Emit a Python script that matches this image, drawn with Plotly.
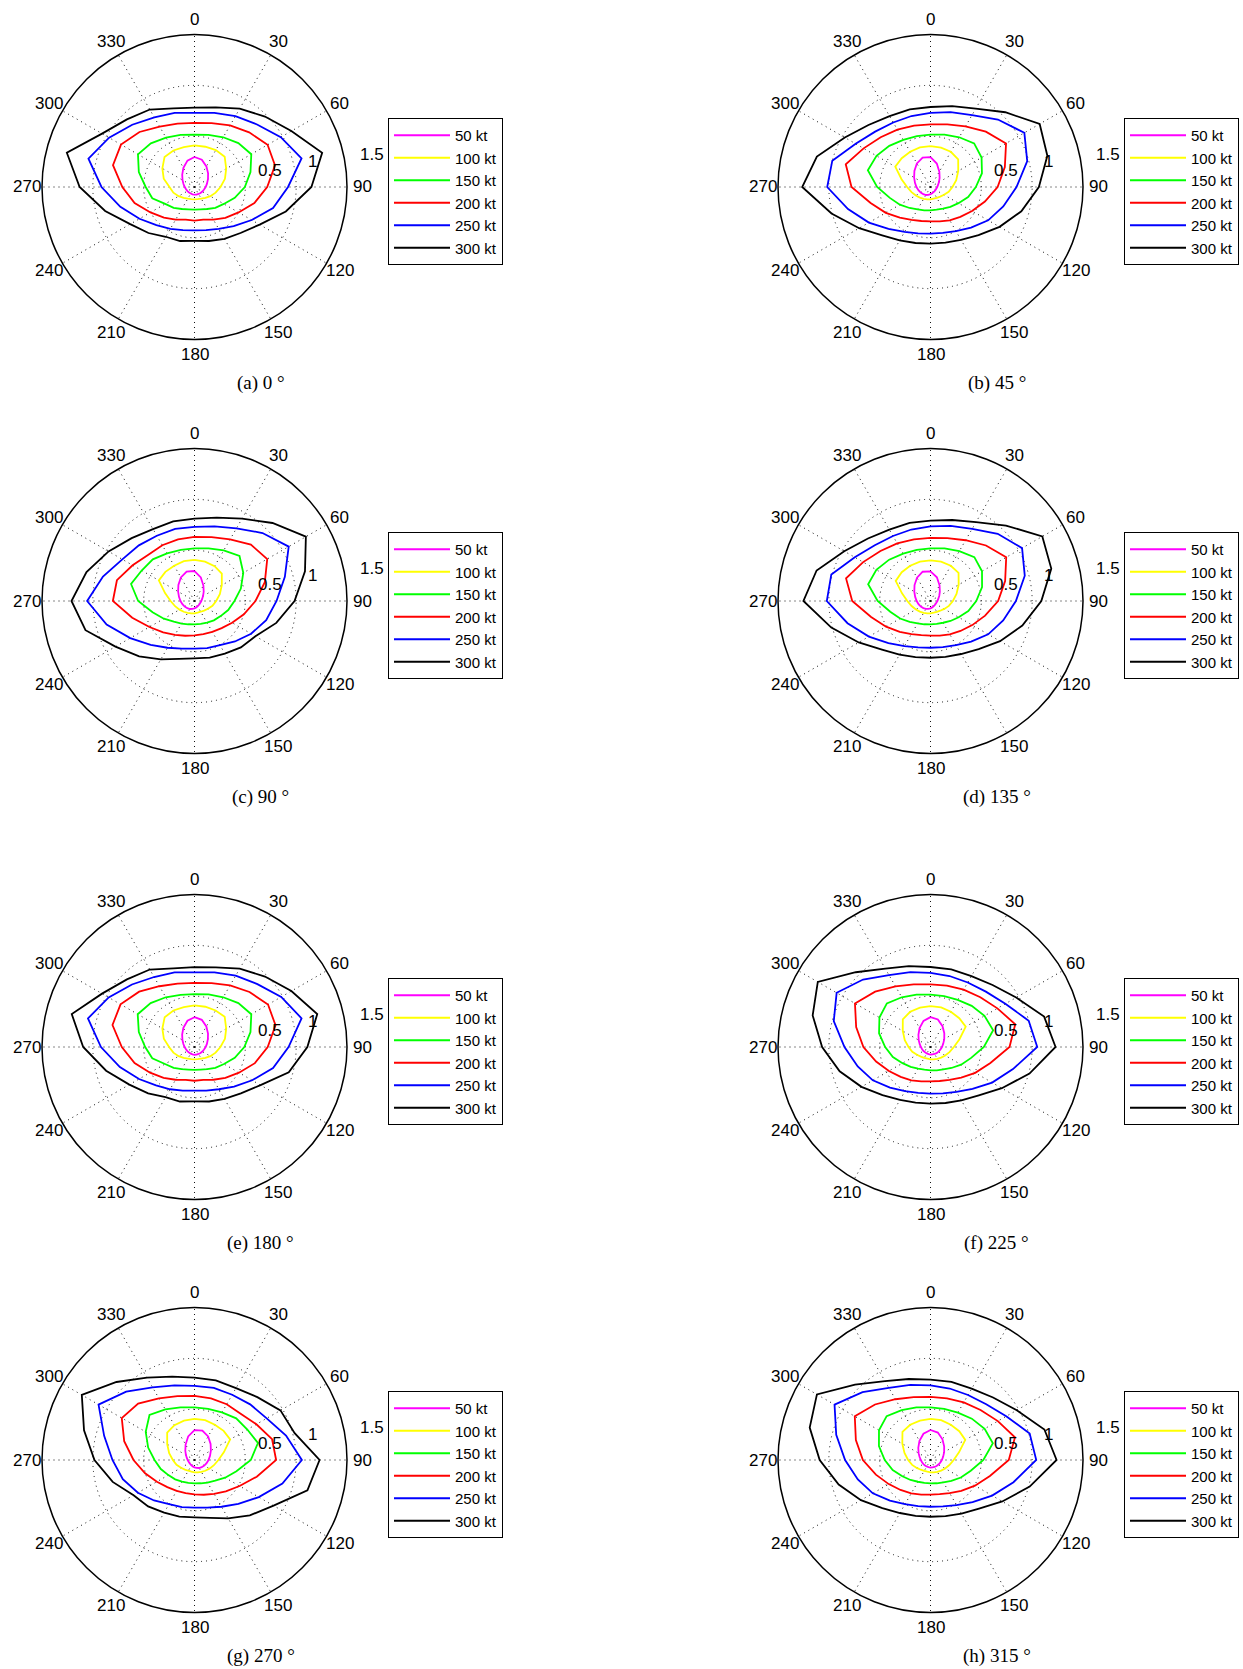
import math
import plotly.graph_objects as go

# ---------------- data ----------------
THETA = list(range(0, 360, 15))          # compass angles (deg), 0 = top, clockwise
SPEEDS = ["50 kt", "100 kt", "150 kt", "200 kt", "250 kt", "300 kt"]
COLORS = ["#ff00ff", "#ffff00", "#00ff00", "#ff0000", "#0000ff", "#000000"]
ANG_TICKS = list(range(0, 360, 30))
ANG_LABELS = [str(v) for v in ANG_TICKS]
R_TICKS = [0.5, 1, 1.5]
R_LABELS = ["0.5", "1", "1.5"]
CAPTIONS = ["(a) 0 °", "(b) 45 °", "(c) 90 °", "(d) 135 °",
            "(e) 180 °", "(f) 225 °", "(g) 270 °", "(h) 315 °"]

# (a) 0 deg
A_50 = [0.295,0.278,0.234,0.189,0.153,0.127,0.110,0.097,0.089,0.084,0.079,0.077,0.075,0.074,0.074,0.076,0.080,0.086,0.096,0.112,0.136,0.171,0.218,0.268]
A_100 = [0.41,0.41,0.42,0.42,0.36,0.31,0.256,0.215,0.18,0.151,0.132,0.123,0.121,0.123,0.132,0.151,0.18,0.215,0.246,0.313,0.365,0.417,0.415,0.405]
A_150 = [0.515,0.53,0.565,0.61,0.645,0.57,0.495,0.41,0.333,0.29,0.25,0.228,0.223,0.228,0.25,0.29,0.333,0.43,0.48,0.567,0.642,0.607,0.56,0.53]
A_200 = [0.63,0.65,0.70,0.76,0.83,0.82,0.715,0.61,0.50,0.43,0.37,0.333,0.33,0.333,0.37,0.425,0.50,0.61,0.71,0.83,0.835,0.765,0.685,0.645]
A_250 = [0.73,0.755,0.805,0.87,0.98,1.09,0.92,0.80,0.65,0.545,0.475,0.44,0.426,0.44,0.475,0.53,0.625,0.755,0.915,1.08,0.97,0.866,0.79,0.755]
A_300 = [0.78,0.81,0.89,0.98,1.10,1.30,1.15,0.93,0.74,0.64,0.59,0.55,0.53,0.55,0.565,0.64,0.73,0.91,1.13,1.30,1.05,0.94,0.88,0.80]

# (b) 45 deg
B_50 = [0.294,0.239,0.174,0.127,0.096,0.077,0.066,0.060,0.057,0.057,0.059,0.064,0.071,0.080,0.091,0.10,0.111,0.123,0.138,0.158,0.186,0.224,0.268,0.30]
B_100 = [0.403,0.40,0.40,0.385,0.315,0.262,0.216,0.185,0.154,0.134,0.123,0.118,0.121,0.125,0.134,0.148,0.167,0.193,0.23,0.295,0.40,0.40,0.40,0.404]
B_150 = [0.515,0.533,0.565,0.607,0.58,0.524,0.446,0.383,0.318,0.276,0.245,0.23,0.23,0.238,0.254,0.292,0.348,0.414,0.525,0.638,0.613,0.573,0.536,0.518]
B_200 = [0.616,0.638,0.688,0.77,0.858,0.757,0.66,0.554,0.472,0.415,0.378,0.35,0.338,0.346,0.374,0.427,0.508,0.61,0.777,0.863,0.76,0.693,0.652,0.624]
B_250 = [0.73,0.763,0.817,0.938,1.066,0.985,0.846,0.741,0.655,0.564,0.50,0.468,0.459,0.472,0.51,0.584,0.70,0.84,1.016,1.0,0.85,0.77,0.733,0.723]
B_300 = [0.787,0.823,0.89,1.04,1.24,1.19,1.066,0.925,0.784,0.668,0.60,0.567,0.557,0.57,0.607,0.672,0.81,1.008,1.262,1.157,0.973,0.863,0.805,0.79]

# (c) 90 deg
C_50 = [0.295,0.240,0.175,0.128,0.097,0.078,0.067,0.061,0.058,0.058,0.060,0.065,0.072,0.081,0.091,0.10,0.111,0.123,0.138,0.158,0.186,0.224,0.268,0.30]
C_100 = [0.405,0.40,0.395,0.38,0.31,0.258,0.213,0.183,0.153,0.133,0.122,0.118,0.121,0.125,0.135,0.15,0.17,0.198,0.235,0.30,0.405,0.405,0.40,0.405]
C_150 = [0.518,0.535,0.574,0.626,0.554,0.472,0.393,0.343,0.297,0.269,0.246,0.234,0.23,0.237,0.256,0.288,0.348,0.427,0.554,0.646,0.60,0.58,0.54,0.52]
C_200 = [0.63,0.65,0.70,0.784,0.826,0.716,0.60,0.503,0.427,0.378,0.35,0.338,0.338,0.354,0.384,0.436,0.512,0.634,0.803,0.79,0.703,0.642,0.633,0.627]
C_250 = [0.73,0.76,0.826,0.946,1.07,0.92,0.807,0.73,0.643,0.563,0.50,0.479,0.469,0.485,0.531,0.61,0.73,0.895,1.056,0.932,0.82,0.774,0.741,0.735]
C_300 = [0.81,0.848,0.935,1.085,1.265,1.125,0.984,0.833,0.692,0.645,0.597,0.577,0.564,0.59,0.662,0.77,0.898,1.11,1.21,1.10,0.976,0.874,0.817,0.81]

# (d) 135 deg
D_50 = [0.292,0.242,0.178,0.13,0.099,0.079,0.068,0.061,0.058,0.058,0.060,0.065,0.072,0.080,0.090,0.099,0.110,0.122,0.136,0.156,0.184,0.222,0.265,0.298]
D_100 = [0.40,0.40,0.40,0.39,0.32,0.265,0.22,0.187,0.156,0.135,0.124,0.119,0.121,0.125,0.134,0.148,0.166,0.192,0.228,0.29,0.395,0.40,0.40,0.40]
D_150 = [0.518,0.535,0.567,0.61,0.585,0.525,0.45,0.385,0.32,0.278,0.247,0.232,0.23,0.237,0.253,0.29,0.345,0.41,0.52,0.635,0.615,0.575,0.538,0.52]
D_200 = [0.62,0.64,0.69,0.772,0.86,0.76,0.665,0.556,0.474,0.417,0.38,0.352,0.34,0.347,0.375,0.428,0.505,0.605,0.77,0.86,0.765,0.696,0.655,0.628]
D_250 = [0.735,0.765,0.82,0.935,1.04,0.96,0.84,0.74,0.655,0.565,0.502,0.47,0.46,0.473,0.512,0.585,0.70,0.845,1.02,1.01,0.86,0.775,0.738,0.728]
D_300 = [0.79,0.825,0.895,1.05,1.27,1.23,1.09,0.935,0.79,0.67,0.602,0.568,0.558,0.572,0.61,0.675,0.815,1.01,1.25,1.16,0.98,0.87,0.81,0.795]

# (e) 180 deg
E_50 = [0.293,0.277,0.233,0.188,0.152,0.127,0.110,0.097,0.089,0.084,0.079,0.077,0.076,0.075,0.075,0.077,0.081,0.087,0.097,0.113,0.137,0.172,0.219,0.268]
E_100 = [0.41,0.41,0.415,0.42,0.36,0.31,0.255,0.215,0.18,0.151,0.132,0.124,0.122,0.124,0.132,0.151,0.18,0.215,0.25,0.312,0.365,0.415,0.415,0.405]
E_150 = [0.52,0.535,0.565,0.61,0.645,0.57,0.49,0.41,0.335,0.29,0.252,0.23,0.225,0.23,0.252,0.29,0.335,0.43,0.485,0.567,0.645,0.61,0.565,0.53]
E_200 = [0.63,0.65,0.70,0.765,0.835,0.825,0.72,0.615,0.505,0.43,0.372,0.335,0.332,0.335,0.372,0.43,0.505,0.61,0.715,0.835,0.84,0.77,0.69,0.645]
E_250 = [0.735,0.76,0.81,0.875,0.985,1.09,0.925,0.80,0.655,0.55,0.48,0.445,0.43,0.445,0.48,0.535,0.63,0.76,0.92,1.085,0.975,0.87,0.795,0.76]
E_300 = [0.785,0.81,0.89,0.98,1.10,1.25,1.11,0.96,0.75,0.645,0.59,0.555,0.535,0.555,0.57,0.645,0.74,0.90,1.095,1.25,1.05,0.94,0.88,0.80]

# (f) 225 deg
F_50 = [0.294,0.28,0.236,0.192,0.156,0.13,0.113,0.10,0.091,0.085,0.079,0.076,0.074,0.073,0.073,0.075,0.079,0.085,0.094,0.11,0.134,0.168,0.215,0.266]
F_100 = [0.403,0.404,0.40,0.40,0.40,0.295,0.23,0.193,0.167,0.148,0.134,0.125,0.121,0.118,0.123,0.134,0.154,0.185,0.216,0.262,0.315,0.385,0.40,0.40]
F_150 = [0.515,0.518,0.536,0.573,0.613,0.638,0.525,0.414,0.348,0.292,0.254,0.238,0.23,0.23,0.245,0.276,0.318,0.383,0.446,0.524,0.58,0.607,0.565,0.533]
F_200 = [0.616,0.624,0.652,0.693,0.76,0.863,0.777,0.61,0.508,0.427,0.374,0.346,0.338,0.35,0.378,0.415,0.472,0.554,0.66,0.757,0.858,0.77,0.688,0.638]
F_250 = [0.73,0.723,0.733,0.77,0.85,1.0,1.05,0.84,0.70,0.584,0.51,0.472,0.459,0.468,0.50,0.564,0.655,0.741,0.846,0.985,1.066,0.938,0.817,0.763]
F_300 = [0.787,0.79,0.805,0.863,0.973,1.157,1.23,1.008,0.81,0.672,0.607,0.57,0.557,0.567,0.60,0.668,0.784,0.925,1.066,1.20,1.28,1.04,0.89,0.823]

# (g) 270 deg
G_50 = [0.294,0.30,0.268,0.224,0.186,0.158,0.138,0.123,0.111,0.10,0.091,0.081,0.072,0.065,0.060,0.058,0.058,0.061,0.067,0.078,0.097,0.128,0.175,0.240]
G_100 = [0.405,0.405,0.40,0.405,0.405,0.30,0.235,0.198,0.17,0.15,0.135,0.125,0.121,0.118,0.122,0.133,0.153,0.183,0.213,0.258,0.31,0.38,0.395,0.40]
G_150 = [0.518,0.52,0.54,0.58,0.60,0.646,0.554,0.427,0.348,0.288,0.256,0.237,0.23,0.234,0.246,0.269,0.297,0.343,0.393,0.472,0.554,0.626,0.574,0.535]
G_200 = [0.63,0.627,0.633,0.642,0.703,0.79,0.803,0.634,0.512,0.436,0.384,0.354,0.338,0.338,0.35,0.378,0.427,0.503,0.60,0.716,0.826,0.784,0.70,0.65]
G_250 = [0.73,0.735,0.741,0.774,0.82,0.932,1.056,0.895,0.73,0.61,0.531,0.485,0.469,0.479,0.50,0.563,0.643,0.73,0.807,0.92,1.09,0.95,0.826,0.76]
G_300 = [0.81,0.81,0.817,0.874,0.976,1.02,1.23,1.15,0.898,0.77,0.662,0.59,0.564,0.577,0.597,0.645,0.692,0.833,0.984,1.125,1.28,1.085,0.935,0.848]

# (h) 315 deg
H_50 = [0.295,0.279,0.235,0.19,0.155,0.129,0.112,0.099,0.09,0.084,0.079,0.076,0.074,0.073,0.074,0.076,0.08,0.086,0.095,0.111,0.135,0.17,0.217,0.267]
H_100 = [0.405,0.405,0.40,0.40,0.395,0.29,0.228,0.192,0.166,0.148,0.134,0.125,0.121,0.119,0.124,0.135,0.156,0.187,0.22,0.265,0.32,0.39,0.40,0.40]
H_150 = [0.518,0.52,0.538,0.575,0.615,0.635,0.52,0.41,0.345,0.29,0.253,0.237,0.23,0.232,0.247,0.278,0.32,0.385,0.45,0.525,0.585,0.61,0.567,0.535]
H_200 = [0.62,0.628,0.655,0.696,0.765,0.86,0.77,0.605,0.505,0.428,0.375,0.347,0.34,0.352,0.38,0.417,0.474,0.556,0.665,0.76,0.86,0.772,0.69,0.64]
H_250 = [0.735,0.728,0.738,0.775,0.86,1.01,1.04,0.845,0.70,0.585,0.512,0.473,0.46,0.47,0.502,0.565,0.655,0.74,0.84,0.96,1.09,0.945,0.82,0.765]
H_300 = [0.79,0.795,0.81,0.87,0.98,1.16,1.24,1.01,0.815,0.675,0.61,0.572,0.558,0.568,0.602,0.67,0.79,0.935,1.09,1.23,1.29,1.05,0.895,0.825]

PANEL_CURVES = [
    [A_50, A_100, A_150, A_200, A_250, A_300],
    [B_50, B_100, B_150, B_200, B_250, B_300],
    [C_50, C_100, C_150, C_200, C_250, C_300],
    [D_50, D_100, D_150, D_200, D_250, D_300],
    [E_50, E_100, E_150, E_200, E_250, E_300],
    [F_50, F_100, F_150, F_200, F_250, F_300],
    [G_50, G_100, G_150, G_200, G_250, G_300],
    [H_50, H_100, H_150, H_200, H_250, H_300],
]

# ---------------- layout geometry (pixels / styling) ----------------
W, H = 1243, 1669
R_MAX = 1.5
R_PX = 152.5
COL_CX = [194.5, 930.5]
ROW_CY = [187, 601, 1047, 1460]
# MATLAB-style label placement (radius in data units, compass angle)
ANG_LABEL_R = 1.65
R_LABEL_POS = [0.76, 1.19, 1.77]
R_LABEL_ANG = [77.3, 78.0, 79.7]

SANS = "Liberation Sans, Arial, Helvetica, sans-serif"
SERIF = "Liberation Serif, Times New Roman, serif"
DOT = "1px,4px"


def to_paper(cx, cy, r, ang):
    px = cx + r * R_PX / R_MAX * math.sin(math.radians(ang))
    py = cy - r * R_PX / R_MAX * math.cos(math.radians(ang))
    return px / W, 1 - py / H


fig = go.Figure()
layout = dict(
    width=W, height=H, autosize=False,
    margin=dict(l=0, r=0, t=0, b=0, pad=0),
    paper_bgcolor="white", plot_bgcolor="white",
    showlegend=True, annotations=[],
)

for i, curves in enumerate(PANEL_CURVES):
    row, col = divmod(i, 2)
    cx, cy = COL_CX[col], ROW_CY[row]
    pkey = "polar" if i == 0 else f"polar{i+1}"
    lkey = "legend" if i == 0 else f"legend{i+1}"

    for name, color, rv in zip(SPEEDS, COLORS, curves):
        fig.add_trace(go.Scatterpolar(
            r=rv + rv[:1], theta=THETA + THETA[:1],
            mode="lines", name=name,
            line=dict(color=color, width=1.8),
            subplot=pkey, legend=lkey, hoverinfo="skip",
        ))

    layout[pkey] = dict(
        domain=dict(x=[(cx - R_PX) / W, (cx + R_PX) / W],
                    y=[1 - (cy + R_PX) / H, 1 - (cy - R_PX) / H]),
        bgcolor="white",
        angularaxis=dict(
            rotation=90, direction="clockwise",
            tickmode="array", tickvals=ANG_TICKS, ticktext=ANG_LABELS,
            showticklabels=False,
            ticks="", showline=True, linecolor="black", linewidth=1.5,
            showgrid=True, gridcolor="#111111", gridwidth=1, griddash=DOT,
        ),
        radialaxis=dict(
            range=[0, R_MAX], tickmode="array", tickvals=R_TICKS[:2],
            showticklabels=False, ticks="", showline=False,
            showgrid=True, gridcolor="#111111", gridwidth=1, griddash=DOT,
        ),
    )
    # angular tick labels, centred at 1.1 * rmax (MATLAB polar style)
    for ang, lab in zip(ANG_TICKS, ANG_LABELS):
        x, y = to_paper(cx, cy, ANG_LABEL_R, ang)
        layout["annotations"].append(dict(
            text=lab, x=x, y=y, xref="paper", yref="paper",
            xanchor="center", yanchor="middle", showarrow=False,
            font=dict(family=SANS, size=17, color="black"),
        ))
    # radial tick labels
    for lab, rl, al in zip(R_LABELS, R_LABEL_POS, R_LABEL_ANG):
        x, y = to_paper(cx, cy, rl, al)
        layout["annotations"].append(dict(
            text=lab, x=x, y=y, xref="paper", yref="paper",
            xanchor="center", yanchor="middle", showarrow=False,
            font=dict(family=SANS, size=17, color="black"),
        ))
    layout[lkey] = dict(
        x=(cx + 193.5) / W, y=1 - (cy - 69) / H,
        xanchor="left", yanchor="top",
        bgcolor="white", bordercolor="black", borderwidth=1,
        font=dict(family=SANS, size=15, color="black"),
        itemwidth=56, tracegroupgap=0,
    )
    layout["annotations"].append(dict(
        text=CAPTIONS[i], x=(cx + 66) / W, y=1 - (cy + 196) / H,
        xref="paper", yref="paper", xanchor="center", yanchor="middle",
        showarrow=False, font=dict(family=SERIF, size=19, color="black"),
    ))

fig.update_layout(**layout)
fig.write_html("out.html",
               config={"displayModeBar": False},
               post_script="document.body.style.margin='0';document.body.style.padding='0';")
